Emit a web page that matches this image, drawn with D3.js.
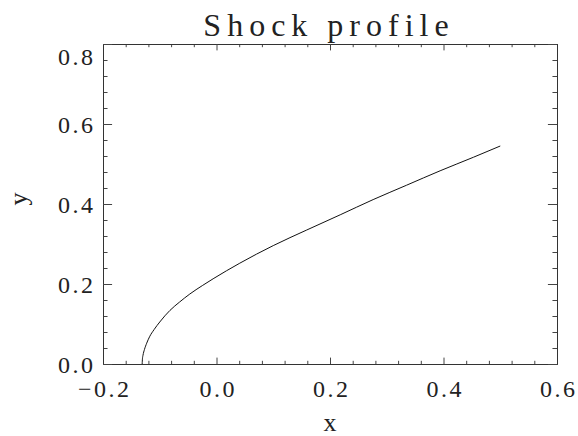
<!DOCTYPE html>
<html>
<head>
<meta charset="utf-8">
<script src="https://cdn.jsdelivr.net/npm/d3@7"></script>
<style>
  body { margin: 0; background: #fff; }
  text { font-family: "Liberation Serif", "Times New Roman", serif; fill: #222; }
</style>
</head>
<body>
<div id="chart"></div>
<script>
// shock front
const shockX = [-0.131, -0.1305, -0.1295, -0.127, -0.123, -0.118, -0.110, -0.100, -0.082, -0.065, -0.047, -0.025, -0.006, 0.041, 0.100, 0.159, 0.218, 0.276, 0.335, 0.394, 0.453, 0.500];
const shockY = [0.000, 0.013, 0.022, 0.036, 0.052, 0.068, 0.086, 0.105, 0.134, 0.155, 0.175, 0.196, 0.213, 0.252, 0.296, 0.335, 0.373, 0.411, 0.447, 0.483, 0.517, 0.545];

const xTicks = [-0.2, 0.0, 0.2, 0.4, 0.6];
const yTicks = [0.0, 0.2, 0.4, 0.6, 0.8];
const titleText = "Shock profile";
const xTitle = "x";
const yTitle = "y";

const width = 578;
const height = 436;
const margin = { top: 44, right: 21, bottom: 72, left: 103 };
const w = width - margin.left - margin.right;
const h = height - margin.top - margin.bottom;

const svg = d3.select("#chart")
  .append("svg")
  .attr("width", width)
  .attr("height", height);

const g = svg.append("g")
  .attr("transform", `translate(${margin.left},${margin.top})`);

const x = d3.scaleLinear().domain([-0.2, 0.6]).range([0, w]);
const y = d3.scaleLinear().domain([0, 0.8]).range([h, 0]);

// IDL style: 4 minor ticks between majors
const xMinor = d3.range(-0.2, 0.6001, 0.04).filter(v => Math.abs(v / 0.2 - Math.round(v / 0.2)) > 1e-6);
const yMinor = d3.range(0, 0.8001, 0.04).filter(v => Math.abs(v / 0.2 - Math.round(v / 0.2)) > 1e-6);

const fmt = d3.format(".1f");
const xLen = 0.02 * h;
const yLen = 0.02 * w;
const labelSize = 24;
const labelGap = 2.5;

function styleAxis(sel) {
  sel.select(".domain").attr("stroke", "#333").attr("stroke-width", 1);
  sel.selectAll(".tick line").attr("stroke", "#444").attr("stroke-width", 1);
}

function styleLabels(sel) {
  sel.selectAll(".tick text")
    .attr("font-size", labelSize)
    .attr("letter-spacing", labelGap)
    .attr("font-family", "Liberation Serif")
    .attr("fill", "#222");
}

// bottom
g.append("g")
  .attr("transform", `translate(0,${h})`)
  .call(d3.axisBottom(x).tickValues(xMinor).tickSize(-xLen / 2).tickSizeOuter(0).tickFormat(""))
  .call(styleAxis);
const bottom = g.append("g")
  .attr("transform", `translate(0,${h})`)
  .call(d3.axisBottom(x).tickValues(xTicks).tickSize(-xLen).tickSizeOuter(0).tickFormat(fmt))
  .call(styleAxis)
  .call(styleLabels);
bottom.selectAll(".tick text")
  .attr("y", 33).attr("dy", 0)
  .attr("dx", labelGap / 2);

// top
g.append("g")
  .call(d3.axisTop(x).tickValues(xMinor).tickSize(-xLen / 2).tickSizeOuter(0).tickFormat(""))
  .call(styleAxis);
g.append("g")
  .call(d3.axisTop(x).tickValues(xTicks).tickSize(-xLen).tickSizeOuter(0).tickFormat(""))
  .call(styleAxis);

// left
g.append("g")
  .call(d3.axisLeft(y).tickValues(yMinor).tickSize(-yLen / 2).tickSizeOuter(0).tickFormat(""))
  .call(styleAxis);
const left = g.append("g")
  .call(d3.axisLeft(y).tickValues(yTicks).tickSize(-yLen).tickSizeOuter(0).tickFormat(fmt))
  .call(styleAxis)
  .call(styleLabels);
left.selectAll(".tick text")
  .attr("x", -10 + labelGap)
  .attr("dy", d => d === 0.8 ? "0.84em" : "0.34em");

// right
g.append("g")
  .attr("transform", `translate(${w},0)`)
  .call(d3.axisRight(y).tickValues(yMinor).tickSize(-yLen / 2).tickSizeOuter(0).tickFormat(""))
  .call(styleAxis);
g.append("g")
  .attr("transform", `translate(${w},0)`)
  .call(d3.axisRight(y).tickValues(yTicks).tickSize(-yLen).tickSizeOuter(0).tickFormat(""))
  .call(styleAxis);

// the curve
const pts = shockX.map((v, i) => [v, shockY[i]]);
const line = d3.line()
  .x(d => x(d[0]))
  .y(d => y(d[1]))
  .curve(d3.curveMonotoneX);

g.append("path")
  .datum(pts)
  .attr("d", line)
  .attr("fill", "none")
  .attr("stroke", "#111")
  .attr("stroke-width", 1);

// titles
svg.append("text")
  .attr("x", margin.left + w / 2 - 1)
  .attr("y", 36)
  .attr("text-anchor", "middle")
  .attr("font-size", 32)
  .attr("letter-spacing", 6)
  .text(titleText);

svg.append("text")
  .attr("x", margin.left + w / 2)
  .attr("y", 431)
  .attr("text-anchor", "middle")
  .attr("font-size", 26)
  .text(xTitle);

svg.append("text")
  .attr("transform", `translate(27,${margin.top + h / 2 - 5}) rotate(-90)`)
  .attr("text-anchor", "middle")
  .attr("font-size", 26)
  .text(yTitle);
</script>
</body>
</html>
